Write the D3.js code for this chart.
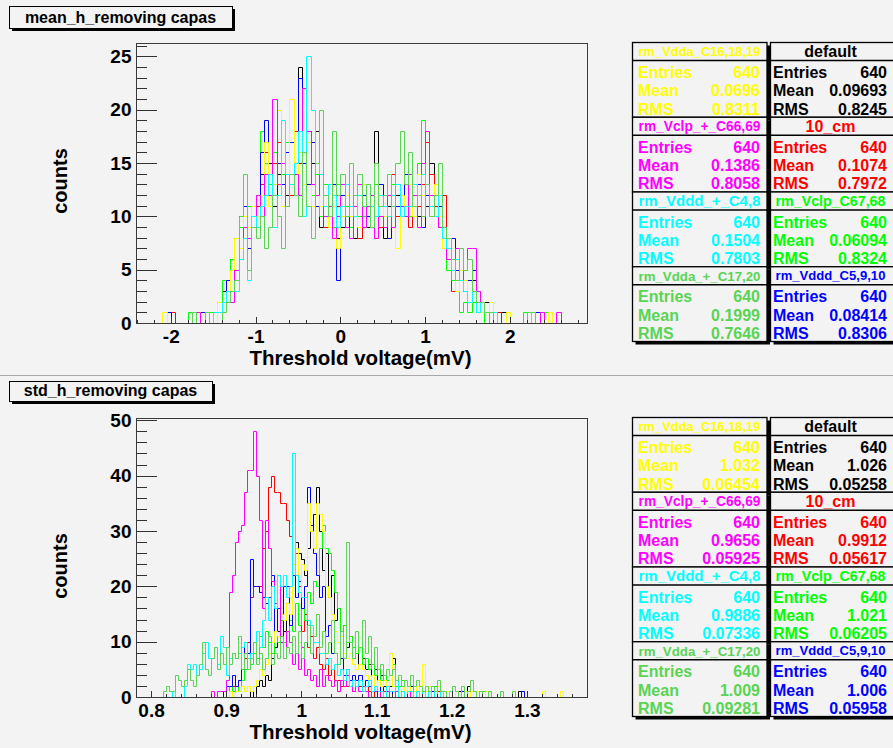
<!DOCTYPE html>
<html>
<head>
<meta charset="utf-8">
<script src="https://cdn.jsdelivr.net/npm/d3@7/dist/d3.min.js"></script>
<style>
  html, body { margin: 0; padding: 0; background: #f3f3f3; }
  svg { display: block; font-family: "Liberation Sans", Arial, Helvetica, sans-serif; font-weight: bold; }
</style>
</head>
<body>
<svg id="canvas" width="893" height="748"></svg>
<script>
// ---------- series ----------
const seriesNames = ["default", "10_cm", "rm_Vclp_C67,68", "rm_Vddd_C5,9,10",
                     "rm_Vdda_C16,18,19", "rm_Vclp_+_C66,69", "rm_Vddd_+_C4,8", "rm_Vdda_+_C17,20"];

// ---------- mean_h bin contents (0.05 mV bins, first bin at -2.15 mV) ----------
const meanStart = -2.15;
const meanBin = 0.05;
const meanDefault = [0,0,0,0,0,0,0,0,0,1,0,0,0,1, 1,3,2,6,5,10,8,11,9,12, 14,12,15,11,14,13,12,14,12,24, 16,18,15,18,9,12,10,11,8,9, 11,11,8,10,12,9,11,18,10,8, 11,9,12,10,11,14,12,10,15,11, 15,11,9,8,7,6,4,5,3,2, 4,1,2,2,1, 0,0,1,0,0,0,0,0,1,0,0,0,0,0,0,0,0,0];
const meanTenCm = [0,0,0,1,0,0,0,0,0,0,1,0,0,0, 0,2,3,5,4,7,9,8,10,11, 13,16,12,15,17,13,14,12,18,15, 16,13,17,12,14,9,10,12,11,12, 10,9,12,8,11,13,12,10,9,11, 12,14,10,11,13,9,12,11,13,17, 14,11,10,12,8,3,6,4,3,4, 2,3,1,1,1, 0,1,0,0,0,0,0,0,0,1,0,0,1,0,0,0,0,0];
const meanVclp6768 = [0,0,0,0,0,0,0,1,0,1,0,0,1,0, 2,4,3,6,5,9,8,11,10,12, 18,15,13,16,12,14,17,13,15,16, 13,17,12,14,10,13,11,9,13,10, 11,9,12,10,10,11,9,13,10,11, 10,13,11,12,14,10,12,15,19,13, 11,12,9,8,5,4,3,1,2,1, 2,1,1,0,1, 1,0,0,0,0,0,0,1,0,0,0,0,1,0,0,0,0,0];
const meanVddd5910 = [0,0,1,0,0,0,0,0,0,0,1,0,0,1, 1,2,4,3,8,6,11,7,10,9, 16,19,14,12,15,13,16,17,12,23, 15,13,17,11,14,12,10,13,4,12, 9,11,11,9,12,10,11,8,13,10, 8,12,11,10,14,11,10,13,9,12, 12,10,11,9,7,8,5,4,3,4, 5,2,2,1,1, 1,0,0,0,0,0,0,0,0,0,1,0,0,0,0,0,0,0];
const meanVdda161819 = [0,1,0,0,0,0,0,0,0,1,0,1,0,0, 2,1,3,5,8,7,10,9,11,10, 12,17,11,13,20,11,14,21,12,16, 13,17,11,15,11,12,9,11,7,10, 12,10,11,9,13,11,12,8,11,10, 14,11,7,12,11,13,10,14,12,13, 11,13,10,7,8,5,3,5,4,2, 3,2,1,1,2, 1,0,0,1,0,0,0,0,0,1,0,0,0,1,0,0,0,0];
const meanVclp6669 = [0,0,0,0,0,0,0,0,0,1,0,0,0,1, 1,2,3,2,5,6,9,8,10,12, 10,14,12,21,13,15,11,13,14,12, 22,18,13,12,14,10,11,8,10,13, 9,8,11,13,9,11,12,8,10,9, 12,9,13,11,10,14,12,9,15,18, 12,10,9,8,6,5,7,4,5,7, 7,3,2,1,1, 1,0,0,0,0,0,0,0,0,0,0,1,0,0,0,1,0,0];
const meanVddd48 = [0,0,0,0,0,0,0,0,0,0,0,1,0,1, 1,2,3,3,3,6,8,4,10,9, 11,12,14,9,12,19,14,13,15,18, 10,25,20,15,14,11,13,12,9,11, 13,11,10,12,11,13,11,10,12,11, 10,12,13,10,11,11,13,12,14,13, 11,10,12,8,7,5,6,4,3,2, 3,1,2,1,1, 1,0,0,0,0,0,0,0,1,0,0,0,0,0,0,0,0,0];
const meanVdda1720 = [0,0,0,0,0,0,0,0,1,0,0,1,0,0, 0,1,2,3,4,10,14,5,9,8, 10,7,9,12,10,7,11,14,12,10, 16,11,8,15,20,12,10,18,12,14, 10,15,12,14,11,13,9,15,11,12, 14,11,15,18,13,16,11,12,10,13, 10,12,15,9,8,6,4,7,5,6, 3,2,2,1,1, 0,0,0,0,0,0,0,0,1,1,0,0,0,0,0,0,0,0];

// ---------- std_h bin contents (0.004 mV bins, first bin per series below) ----------
const stdBin = 0.004;
const stdStarts = [0.932, 0.896, 0.896, 0.896, 0.904, 0.880, 0.828, 0.816];
const stdDefault = [1,0,2,3,2,4, 3,7,9,12,14,12, 17,20,24,28,26,25, 22,27,30,33,38,30, 23,26,18,22,14,16, 11,13,9,11,7,8, 6,7,5,6,4,5, 3,4,2,3,2,7, 2,1,2,1,1,2, 0,1,1,0,1,0, 1,0,1,0,0,1, 0,0,0,1,0,0, 2, 0,0,0,0,0,0,0,0,0,0,0,0,0,0,0,0, 1];
const stdTenCm = [1,0,1,2,1,3, 5,7,10,18,20,20, 20,27,30,38,40,37, 37,35,35,32,29,22, 26,20,12,15,9,11, 7,9,6,5,7,4, 5,3,3,2,4,2, 3,1,2,2,1,2, 1,0,1,1,0,1, 0,1,0,1,0,0, 1,0,0,1,0,0, 1, 0,0,0,0, 1, 0,0,0,0,0,0,0,0,0, 1];
const stdVclp6768 = [1,0,2,1,2,1, 3,5,7,6,8,7, 11,9,12,10,8,12, 10,14,10,12,14,12, 17,13,16,14,19,17, 21,20,27,31,27,26, 23,19,16,12,13,10, 11,9,8,9,6,7, 5,6,4,5,3,4, 3,4,6,2,2,3, 1,2,1,2,2,1, 1,1,0,1,2,0, 1,0,1,0,0,1, 0,0,0,1,0,0, 1,0,1];
const stdVddd5910 = [1,2,2,4,2,3, 5,10,8,25,20,20, 19,18,17,18,22,12, 16,11,20,20,13,22, 18,21,16,20,38,31, 26,22,18,20,11,13, 8,8,6,7,4,5, 3,4,3,4,2,3, 2,1,2,1,2,0, 1,1,0,1,0,1, 0,1,0,0,1,0, 0,0,0,1, 0,0,0,0,0,0,0,0,0, 1, 0,0,0,0,0,0,0,0,0,0,0,0,0,0,0,0,0,0,0, 1];
const stdVdda161819 = [1,0,1,1,2,1, 2,1,2,3,5,4, 6,8,10,12,11,15, 14,17,15,24,27,19, 24,23,35,30,27,35, 33,30,20,18,15,12, 10,11,8,7,8,6, 5,6,5,4,3,4, 2,3,2,3,2,8, 2,3,1,2,1,2, 1,1,2,1,6,1, 2,0,1,2,1,0, 1,1,0,1,0,0, 1,0,1,0,1,0, 0,1, 0,0,0,0,0,0,0,0, 1, 0,0,0,0,0,0,0,0,0, 1, 0,0,0,0,0, 1];
const stdVclp6669 = [1,0,1,1,1,3, 19,22,28,30,31,37, 41,41,48,40,32,16, 32,27,21,17,22,10, 7,12,10,6,8,5, 9,4,5,3,4,2, 5,2,4,3,2,3, 1,3,2,4,2,1, 2,1,2,1,0,1, 1,0,1,0,1,0, 0,1,0,1,0,0, 1];
const stdVddd48 = [1,0,0,0,2,6, 5,6,4,5,8,10, 7,7,9,6,11,9, 4,7,8,7,8,9, 10,7,8,10,12,9, 14,18,14,20,16,22, 20,22,18,20,44,22, 19,18,18,14,13,10, 10,8,8,6,7,5, 6,4,5,3,5,2, 3,2,3,1,2,3, 1,2,1,1,0,2, 1,1,3,0,1,0, 1,1,0,1,0,1, 0,1,0,1,0,1, 0,0,1];
const stdVdda1720 = [1,2,1,1,4,3, 2,3,5,3,2,4, 6,10,5,4,7,9, 5,8,6, 9,6,8,7,11,5,8,5,7,10,6,8,5,7,11,6,8,7,11,7,9,8,11,8,12,7,10,13,8,11,15,9,12,8,10,14,8,6,12,7, 28,10,7,12,9,14,8,11,6,9, 5,6,4,5,4,5,3,4,2,3, 2,4,2,3,2,1,2,1,2,1, 3,1,1,0,0,2,1,0,2,0, 1,3,1,0,1,0,0,1,0,0, 0,1,0,0,0,1];

// ---------- statistics boxes ----------
const statLabels = ["Entries", "Mean", "RMS"];
const meanEntries = [640, 640, 640, 640, 640, 640, 640, 640];
const meanMeans = ["0.09693", "0.1074", "0.06094", "0.08414", "0.0696", "0.1386", "0.1504", "0.1999"];
const meanRms = ["0.8245", "0.7972", "0.8324", "0.8306", "0.8311", "0.8058", "0.7803", "0.7646"];
const stdEntries = [640, 640, 640, 640, 640, 640, 640, 640];
const stdMeans = ["1.026", "0.9912", "1.021", "1.006", "1.032", "0.9656", "0.9886", "1.009"];
const stdRms = ["0.05258", "0.05617", "0.06205", "0.05958", "0.06454", "0.05925", "0.07336", "0.09281"];

// ---------- axis ticks ----------
const meanXTicks = [-2, -1, 0, 1, 2];
const meanYTicks = [0, 5, 10, 15, 20, 25];
const stdXTicks = [0.8, 0.9, 1, 1.1, 1.2, 1.3];
const stdYTicks = [0, 10, 20, 30, 40, 50];

// ---------- styling ----------
const seriesColors = ["#000000", "#ff0000", "#00ff00", "#0000ff", "#ffff00", "#ff00ff", "#00ffff", "#59d454"];
const BG = "#f3f3f3";
const FONT = '"Liberation Sans", Arial, Helvetica, sans-serif';

const svg = d3.select("#canvas");
svg.append("rect").attr("width", 893).attr("height", 748).attr("fill", BG);

const snap = v => Math.round(v) + 0.5;

const panels = [
  {
    id: "mean",
    title: "mean_h_removing capas",
    titleBox: { x: 9, y: 6, w: 223, h: 22, base: 23 },
    frame: { x0: 136, x1: 587, y0: 43, y1: 323 },
    xDomain: [-2.41, 2.91], yMax: 26.25,
    xTicks: meanXTicks, xMinor: d3.range(-2.4, 2.95, 0.2),
    yTicks: meanYTicks, yMinor: d3.range(0, 26.5, 1),
    series: [meanDefault, meanTenCm, meanVclp6768, meanVddd5910, meanVdda161819, meanVclp6669, meanVddd48, meanVdda1720],
    starts: seriesNames.map(() => meanStart), bin: meanBin,
    entries: meanEntries, means: meanMeans, rms: meanRms,
    statsTop: 42.5, countsY: 181
  },
  {
    id: "std",
    title: "std_h_removing capas",
    titleBox: { x: 9, y: 381, w: 203, h: 20, base: 396 },
    frame: { x0: 136, x1: 587, y0: 418, y1: 697 },
    xDomain: [0.78, 1.38], yMax: 50.4,
    xTicks: stdXTicks, xMinor: d3.range(0.78, 1.385, 0.02),
    yTicks: stdYTicks, yMinor: d3.range(0, 50.5, 2),
    series: [stdDefault, stdTenCm, stdVclp6768, stdVddd5910, stdVdda161819, stdVclp6669, stdVddd48, stdVdda1720],
    starts: stdStarts, bin: stdBin,
    entries: stdEntries, means: stdMeans, rms: stdRms,
    statsTop: 417.5, countsY: 566
  }
];

// pad separator
svg.append("line").attr("x1", 0).attr("x2", 893).attr("y1", 375.5).attr("y2", 375.5)
  .attr("stroke", "#a8a8a8").attr("stroke-width", 1);

panels.forEach(p => {
  const g = svg.append("g");
  const f = p.frame;
  const x = d3.scaleLinear().domain(p.xDomain).range([f.x0, f.x1]);
  const y = d3.scaleLinear().domain([0, p.yMax]).range([f.y1, f.y0]);

  // title box with shadow
  const tb = p.titleBox;
  g.append("rect").attr("x", tb.x + 3).attr("y", tb.y + 3).attr("width", tb.w).attr("height", tb.h).attr("fill", "#000");
  g.append("rect").attr("x", tb.x + 0.5).attr("y", tb.y + 0.5).attr("width", tb.w).attr("height", tb.h)
    .attr("fill", BG).attr("stroke", "#000").attr("stroke-width", 1);
  g.append("text").attr("x", tb.x + tb.w / 2).attr("y", tb.base).attr("text-anchor", "middle")
    .attr("font-size", 16).attr("fill", "#000").text(p.title);

  // frame
  g.append("rect").attr("x", f.x0 + 0.5).attr("y", f.y0 + 0.5).attr("width", f.x1 - f.x0).attr("height", f.y1 - f.y0)
    .attr("fill", BG).attr("stroke", "#3a3a3a").attr("stroke-width", 1);

  // histograms (step outlines)
  const clipId = "clip-" + p.id;
  g.append("clipPath").attr("id", clipId).append("rect")
    .attr("x", f.x0).attr("y", f.y0 - 1).attr("width", f.x1 - f.x0 + 1).attr("height", f.y1 - f.y0 + 2);
  const line = d3.line()
    .x(d => snap(x(d[0])))
    .y(d => snap(y(d[1])))
    .curve(d3.curveStepAfter);
  const hg = g.append("g").attr("clip-path", `url(#${clipId})`);
  p.series.forEach((counts, si) => {
    const s0 = p.starts[si];
    const pts = [[s0, 0]];
    counts.forEach((c, i) => pts.push([s0 + i * p.bin, c]));
    pts.push([s0 + counts.length * p.bin, 0]);
    hg.append("path").attr("d", line(pts)).attr("fill", "none")
      .attr("stroke", seriesColors[si]).attr("stroke-width", 1);
  });

  // axes: minor then major ticks, labels on major ticks
  const ax = g.append("g");
  const yMinorAxis = d3.axisLeft(y).tickValues(p.yMinor).tickSize(-10).tickSizeOuter(0).tickFormat("");
  const yMajorAxis = d3.axisLeft(y).tickValues(p.yTicks).tickSize(-20).tickSizeOuter(0).tickPadding(5)
    .tickFormat(d => String(d));
  const xMinorAxis = d3.axisBottom(x).tickValues(p.xMinor).tickSize(-3.5).tickSizeOuter(0).tickFormat("");
  const xMajorAxis = d3.axisBottom(x).tickValues(p.xTicks).tickSize(-7).tickSizeOuter(0).tickPadding(6)
    .tickFormat(d => String(d));
  [yMinorAxis, yMajorAxis].forEach(a => {
    ax.append("g").attr("transform", `translate(${f.x0 + 0.5},0)`).call(a);
  });
  [xMinorAxis, xMajorAxis].forEach(a => {
    ax.append("g").attr("transform", `translate(0,${f.y1 + 0.5})`).call(a);
  });
  ax.selectAll("g").attr("font-size", 19).attr("font-family", FONT).attr("font-weight", "bold");
  ax.selectAll(".domain").remove();
  ax.selectAll(".tick line").attr("stroke", "#333").attr("shape-rendering", "crispEdges");
  ax.selectAll(".tick text").attr("fill", "#000");
  // frame edges along the axes
  g.append("line").attr("x1", f.x0 + 0.5).attr("x2", f.x0 + 0.5).attr("y1", f.y0).attr("y2", f.y1 + 1)
    .attr("stroke", "#3a3a3a");
  g.append("line").attr("x1", f.x0).attr("x2", f.x1 + 1).attr("y1", f.y1 + 0.5).attr("y2", f.y1 + 0.5)
    .attr("stroke", "#3a3a3a");

  // axis titles
  g.append("text").attr("x", (f.x0 + f.x1) / 2 - 1).attr("y", f.y1 + 42).attr("text-anchor", "middle")
    .attr("font-size", 20.5).attr("fill", "#000").text("Threshold voltage(mV)");
  g.append("text").attr("transform", `translate(67,${p.countsY}) rotate(-90)`).attr("text-anchor", "middle")
    .attr("font-size", 20).attr("fill", "#000").text("counts");

  // statistics boxes: left column holds series 4..7, right column 0..3
  const boxH = 74.75, headH = 18;
  const cols = [
    { x: 632.5, w: 134.5, lx: 638, vx: 760, cx: 699.5, fitW: 122 },
    { x: 770.5, w: 124, lx: 773, vx: 887, cx: 830.5, fitW: 110 }
  ];
  const sg = g.append("g");
  [4, 5, 6, 7, 0, 1, 2, 3].forEach(si => {
    const col = cols[si < 4 ? 1 : 0];
    const by = p.statsTop + (si % 4) * boxH;
    const color = seriesColors[si];
    sg.append("rect").attr("x", col.x + 3).attr("y", by + 3).attr("width", col.w).attr("height", boxH)
      .attr("fill", "#000");
    sg.append("rect").attr("x", col.x).attr("y", by).attr("width", col.w).attr("height", boxH)
      .attr("fill", BG).attr("stroke", "#000").attr("stroke-width", 1.3);
    sg.append("line").attr("x1", col.x).attr("x2", col.x + col.w).attr("y1", by + headH).attr("y2", by + headH)
      .attr("stroke", "#000").attr("stroke-width", 1.3);
    const ht = sg.append("text").attr("x", col.cx).attr("text-anchor", "middle").attr("fill", color)
      .attr("font-size", 16).text(seriesNames[si]);
    const wAt16 = ht.node().getComputedTextLength();
    const fs = Math.min(16, 16 * col.fitW / wAt16);
    ht.attr("font-size", fs).attr("y", by + headH / 2 + fs * 0.36);
    const vals = [String(p.entries[si]), p.means[si], p.rms[si]];
    statLabels.forEach((lab, j) => {
      const cy = by + 30 + 18.25 * j + 5.7;
      sg.append("text").attr("x", col.lx).attr("y", cy).attr("font-size", 16).attr("fill", color).text(lab);
      sg.append("text").attr("x", col.vx).attr("y", cy).attr("text-anchor", "end").attr("font-size", 16)
        .attr("fill", color).text(vals[j]);
    });
  });
});
</script>
</body>
</html>
